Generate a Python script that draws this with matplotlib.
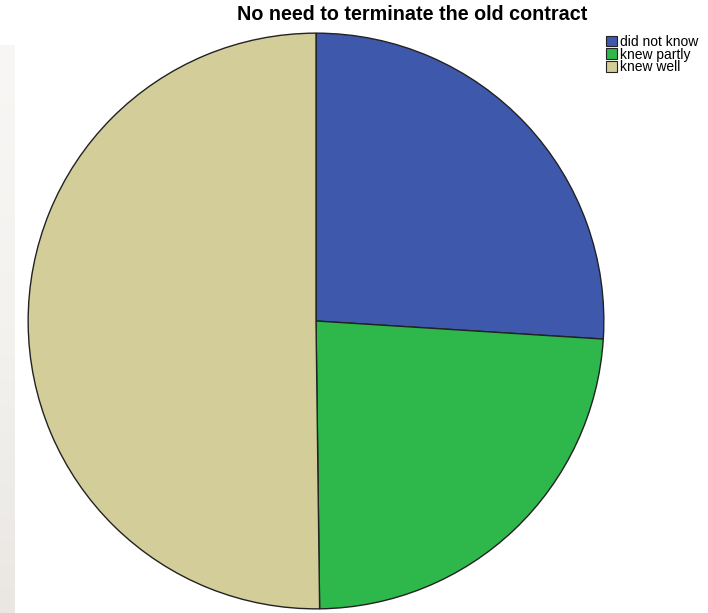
import numpy as np
import matplotlib
matplotlib.use("Agg")
import matplotlib.pyplot as plt
from matplotlib.patches import Patch
from matplotlib.colors import LinearSegmentedColormap

title = "No need to terminate the old contract"
categories = ["did not know", "knew partly", "knew well"]
shares = [26.0, 23.8, 50.2]
colors = ["#3E58AC", "#2EB74A", "#D3CE99"]

W, H = 708, 613
fig = plt.figure(figsize=(W / 100, H / 100), dpi=100)
fig.patch.set_facecolor("white")

# faint warm-grey strip on the left margin
strip = fig.add_axes([0, 0, 15 / W, (H - 45) / H])
warm = LinearSegmentedColormap.from_list("warm", ["#EAE7E3", "#F3F2EF", "#F8F7F5"])
grad = np.linspace(0, 1, 256).reshape(-1, 1)
strip.imshow(grad, cmap=warm, vmin=0, vmax=1, aspect="auto",
             origin="lower", extent=[0, 1, 0, 1])
strip.axis("off")

cx, cy, r = 316, 321, 289
ax = fig.add_axes([(cx - r) / W, (H - cy - r) / H, 2 * r / W, 2 * r / H])
ax.pie(shares, colors=colors, startangle=90, counterclock=False, radius=1,
       wedgeprops=dict(edgecolor="#222222", linewidth=1.0))
ax.set_xlim(-1.004, 1.004)
ax.set_ylim(-1.004, 1.004)
ax.set_aspect("equal")
ax.axis("off")

fig.text(412 / W, 1 - 15 / H, title, ha="center", va="center",
         fontsize=14.2, fontweight="bold", family="Liberation Sans")

handles = [Patch(facecolor=c, edgecolor="#222222", linewidth=0.8) for c in colors]
leg = fig.legend(handles, categories, loc="upper left",
                 bbox_to_anchor=(606 / W, 1 - 35 / H), frameon=False,
                 prop=dict(family="Liberation Sans", size=10),
                 handlelength=0.8, handleheight=0.8, handletextpad=0.2,
                 labelspacing=-0.1, borderpad=0, borderaxespad=0)

fig.savefig("out.png", dpi=100)
